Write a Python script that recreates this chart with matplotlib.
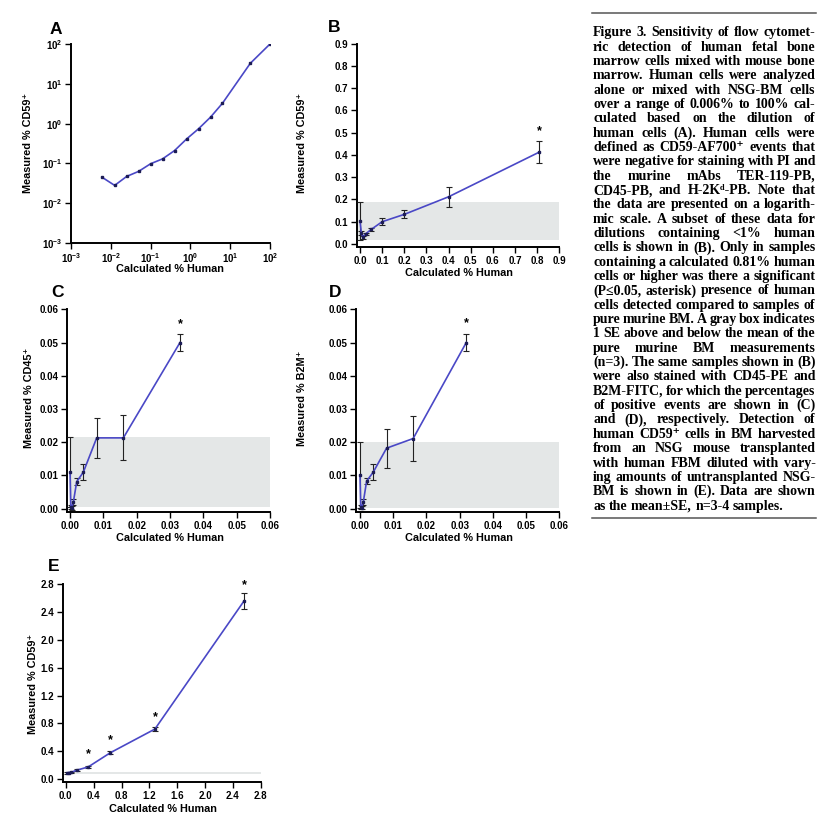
import matplotlib
matplotlib.use('Agg')
import matplotlib.pyplot as plt
from matplotlib.ticker import FormatStrFormatter, NullLocator
import numpy as np

plt.rcParams['font.family'] = ['Liberation Sans', 'DejaVu Sans']
plt.rcParams['font.weight'] = 'bold'
plt.rcParams['mathtext.fontset'] = 'custom'
plt.rcParams['mathtext.rm'] = 'Liberation Sans:bold'
plt.rcParams['mathtext.bf'] = 'Liberation Sans:bold'
plt.rcParams['mathtext.default'] = 'bf'

# ---------------- data ----------------
a_x = [0.006, 0.0125, 0.025, 0.05, 0.1, 0.2, 0.4, 0.8, 1.6, 3.2, 6.4, 32, 100]
a_y = [0.045, 0.028, 0.047, 0.063, 0.098, 0.13, 0.21, 0.41, 0.74, 1.45, 3.25, 32.7, 100]

b_x = [0, 0.006, 0.0125, 0.025, 0.05, 0.1, 0.2, 0.4, 0.81]
b_y = [0.103, 0.05, 0.03, 0.045, 0.065, 0.10, 0.133, 0.212, 0.413]
b_err = [0.087, 0.01, 0.008, 0.006, 0.005, 0.016, 0.018, 0.046, 0.051]
b_star_x = [0.81]
b_star_y = [0.507]

c_x = [0, 0.00024, 0.0005, 0.001, 0.002, 0.004, 0.008, 0.016, 0.033]
c_y = [0.011, 0.0005, 0.0002, 0.002, 0.0081, 0.011, 0.0213, 0.0213, 0.050]
c_err = [0.0105, 0.0005, 0.0005, 0.001, 0.001, 0.0025, 0.006, 0.0068, 0.0025]
c_star_x = [0.033]
c_star_y = [0.0556]

d_x = [0, 0.00024, 0.0005, 0.001, 0.002, 0.004, 0.008, 0.016, 0.032]
d_y = [0.0101, 0.0005, 0.0003, 0.002, 0.0083, 0.011, 0.0182, 0.0211, 0.050]
d_err = [0.0099, 0.0005, 0.0005, 0.001, 0.001, 0.0025, 0.0059, 0.0068, 0.0025]
d_star_x = [0.032]
d_star_y = [0.0558]

e_x = [0.02, 0.04, 0.08, 0.16, 0.32, 0.64, 1.28, 2.56]
e_y = [0.09, 0.095, 0.10, 0.13, 0.175, 0.38, 0.72, 2.56]
e_err = [0.01, 0.01, 0.01, 0.01, 0.015, 0.02, 0.03, 0.12]
e_star_x = [0.32, 0.64, 1.28, 2.56]
e_star_y = [0.355, 0.56, 0.89, 2.785]
e_band = [0.08, 0.11]

caption_lines = [
    "Figure 3. Sensitivity of flow cytomet-",
    "ric detection of human fetal bone",
    "marrow cells mixed with mouse bone",
    "marrow. Human cells were analyzed",
    "alone or mixed with NSG-BM cells",
    "over a range of 0.006% to 100% cal-",
    "culated based on the dilution of",
    "human cells (A). Human cells were",
    "defined as CD59-AF700\u207a events that",
    "were negative for staining with PI and",
    "the murine mAbs TER-119-PB,",
    "CD45-PB, and H-2K\u1d48-PB. Note that",
    "the data are presented on a logarith-",
    "mic scale. A subset of these data for",
    "dilutions containing <1% human",
    "cells is shown in (B). Only in samples",
    "containing a calculated 0.81% human",
    "cells or higher was there a significant",
    "(P\u22640.05, asterisk) presence of human",
    "cells detected compared to samples of",
    "pure murine BM. A gray box indicates",
    "1 SE above and below the mean of the",
    "pure murine BM measurements",
    "(n=3). The same samples shown in (B)",
    "were also stained with CD45-PE and",
    "B2M-FITC, for which the percentages",
    "of positive events are shown in (C)",
    "and (D), respectively. Detection of",
    "human CD59\u207a cells in BM harvested",
    "from an NSG mouse transplanted",
    "with human FBM diluted with vary-",
    "ing amounts of untransplanted NSG-",
    "BM is shown in (E). Data are shown",
    "as the mean\u00b1SE, n=3-4 samples.",
]

# ---------------- figure ----------------
W, H = 838, 833
fig = plt.figure(figsize=(W / 100, H / 100), dpi=100)
fig.patch.set_facecolor('white')

LINE_C = '#4a48c6'
MARK_C = '#1c1c55'
BOX_C = '#e4e7e7'


def add_ax(l, r, t, b):
    return fig.add_axes([l / W, 1 - b / H, (r - l) / W, (b - t) / H])


def style(ax):
    for s in ['top', 'right']:
        ax.spines[s].set_visible(False)
    for s in ['left', 'bottom']:
        ax.spines[s].set_linewidth(1.4)
    ax.tick_params(direction='out', length=4, width=1, labelsize=7, pad=2)
    ax.patch.set_alpha(0)


def labels(ax, ylab, box, ylab_c, xlab_c):
    l, r, t, b = box
    ax.set_ylabel(ylab, fontsize=7.8, fontweight='bold', va='center', ha='center')
    ax.yaxis.set_label_coords((ylab_c[0] - l) / (r - l), (b - ylab_c[1]) / (b - t))
    ax.set_xlabel('Calculated % Human', fontsize=7.8, fontweight='bold', va='center', ha='center')
    ax.xaxis.set_label_coords((xlab_c[0] - l) / (r - l), (b - xlab_c[1]) / (b - t))


def letter(s, x, y):
    fig.text(x / W, 1 - y / H, s, fontsize=12.5, fontweight='bold', ha='center', va='center')


def draw_series(ax, x, y, err=None):
    if err is not None:
        ax.errorbar(x, y, yerr=err, fmt='none', ecolor='#222222', elinewidth=0.8,
                    capsize=2.5, capthick=0.8, zorder=3)
    ax.plot(x, y, color=LINE_C, lw=1.2, zorder=4)
    ax.plot(x, y, ls='none', marker='s', ms=2.1, color=MARK_C, zorder=5)


def stars(ax, sx, sy):
    for xx, yy in zip(sx, sy):
        ax.text(xx, yy, '*', ha='center', va='center', fontsize=9, fontweight='bold', zorder=6)


# Panel A
boxA = (71, 270, 44, 243)
ax = add_ax(*boxA)
style(ax)
ax.set_xscale('log')
ax.set_yscale('log')
ax.set_xlim(1e-3, 1e2)
ax.set_ylim(1e-3, 1e2)
decs = [1e-3, 1e-2, 1e-1, 1e0, 1e1, 1e2]
declabels = ['$10^{-3}$', '$10^{-2}$', '$10^{-1}$', '$10^{0}$', '$10^{1}$', '$10^{2}$']
ax.set_xticks(decs)
ax.set_xticklabels(declabels)
ax.set_yticks(decs)
ax.set_yticklabels(declabels)
ax.xaxis.set_minor_locator(NullLocator())
ax.yaxis.set_minor_locator(NullLocator())
draw_series(ax, a_x, a_y)
labels(ax, 'Measured % CD59\u207a', boxA, (28, 143), (170, 269))
letter('A', 56, 29)

# Panel B
boxB = (356.7, 559.3, 43.7, 247.3)
ax = add_ax(*boxB)
style(ax)
ax.set_xlim(-0.015, 0.9)
ax.set_ylim(-0.015, 0.9)
ax.set_xticks(np.arange(0, 0.91, 0.1))
ax.set_yticks(np.arange(0, 0.91, 0.1))
ax.xaxis.set_major_formatter(FormatStrFormatter('%.1f'))
ax.yaxis.set_major_formatter(FormatStrFormatter('%.1f'))
ax.fill_between([-0.01, 0.9], b_y[0] - b_err[0], b_y[0] + b_err[0], color=BOX_C, lw=0, zorder=1)
draw_series(ax, b_x, b_y, b_err)
stars(ax, b_star_x, b_star_y)
labels(ax, 'Measured % CD59\u207a', boxB, (302, 143), (459, 273))
letter('B', 334, 27.5)

# Panel C
boxC = (66.7, 270, 309.3, 512.3)
ax = add_ax(*boxC)
style(ax)
ax.set_xlim(-0.001, 0.06)
ax.set_ylim(-0.0011, 0.06)
ax.set_xticks(np.arange(0, 0.061, 0.01))
ax.set_yticks(np.arange(0, 0.061, 0.01))
ax.xaxis.set_major_formatter(FormatStrFormatter('%.2f'))
ax.yaxis.set_major_formatter(FormatStrFormatter('%.2f'))
ax.fill_between([0, 0.06], c_y[0] - c_err[0], c_y[0] + c_err[0], color=BOX_C, lw=0, zorder=1)
draw_series(ax, c_x, c_y, c_err)
stars(ax, c_star_x, c_star_y)
labels(ax, 'Measured % CD45\u207a', boxC, (29, 398), (170, 538))
letter('C', 57.5, 292.5)

# Panel D
boxD = (356, 559.3, 309.3, 512.3)
ax = add_ax(*boxD)
style(ax)
ax.set_xlim(-0.0012, 0.06)
ax.set_ylim(-0.0011, 0.06)
ax.set_xticks(np.arange(0, 0.061, 0.01))
ax.set_yticks(np.arange(0, 0.061, 0.01))
ax.xaxis.set_major_formatter(FormatStrFormatter('%.2f'))
ax.yaxis.set_major_formatter(FormatStrFormatter('%.2f'))
ax.fill_between([0, 0.06], d_y[0] - d_err[0], d_y[0] + d_err[0], color=BOX_C, lw=0, zorder=1)
draw_series(ax, d_x, d_y, d_err)
stars(ax, d_star_x, d_star_y)
labels(ax, 'Measured % B2M\u207a', boxD, (302, 398), (459, 538))
letter('D', 335.5, 292.5)

# Panel E
boxE = (62.7, 260.7, 584.3, 782.3)
ax = add_ax(*boxE)
style(ax)
ax.set_xlim(-0.045, 2.8)
ax.set_ylim(-0.045, 2.8)
ax.set_xticks(np.arange(0, 2.81, 0.4))
ax.set_yticks(np.arange(0, 2.81, 0.4))
ax.xaxis.set_major_formatter(FormatStrFormatter('%.1f'))
ax.yaxis.set_major_formatter(FormatStrFormatter('%.1f'))
ax.fill_between([0, 2.8], e_band[0], e_band[1], color=BOX_C, lw=0, zorder=1)
draw_series(ax, e_x, e_y, e_err)
stars(ax, e_star_x, e_star_y)
labels(ax, 'Measured % CD59\u207a', boxE, (32.5, 684), (163, 809))
letter('E', 54, 566.5)

# ---------------- caption (justified) ----------------
renderer = fig.canvas.get_renderer()
cap_kw = dict(family=['Liberation Serif', 'DejaVu Serif', 'DejaVu Sans'], fontweight='bold')
X0, X1 = 593.0, 815.5


def measure(s, fs):
    t = fig.text(0, 0, s, fontsize=fs, **cap_kw)
    w = t.get_window_extent(renderer).width
    t.remove()
    return w


base = 10.0
space0 = measure('x x', base) - measure('xx', base)
need = 0
for ln in caption_lines[:-1]:
    words = ln.split(' ')
    ww = sum(measure(w, base) for w in words)
    need = max(need, ww + 0.7 * space0 * (len(words) - 1))
fs = min(10.5, base * (X1 - X0) / need)
space = measure('x x', fs) - measure('xx', fs)

for i, ln in enumerate(caption_lines):
    yb = 36.3 + i * 14.34
    words = ln.split(' ')
    widths = [measure(w, fs) for w in words]
    if i < len(caption_lines) - 1 and len(words) > 1:
        gap = (X1 - X0 - sum(widths)) / (len(words) - 1)
    else:
        gap = space
    x = X0
    for w, wd in zip(words, widths):
        fig.text(x / W, 1 - yb / H, w, fontsize=fs, ha='left', va='baseline', **cap_kw)
        x += wd + gap

fig.add_artist(plt.Line2D([591.7 / W, 815.5 / W], [1 - 13.3 / H, 1 - 13.3 / H],
                          transform=fig.transFigure, color='#555555', lw=1.1))
fig.add_artist(plt.Line2D([591.7 / W, 815.5 / W], [1 - 517.7 / H, 1 - 517.7 / H],
                          transform=fig.transFigure, color='#555555', lw=1.1))

fig.savefig('out.png', dpi=100)
